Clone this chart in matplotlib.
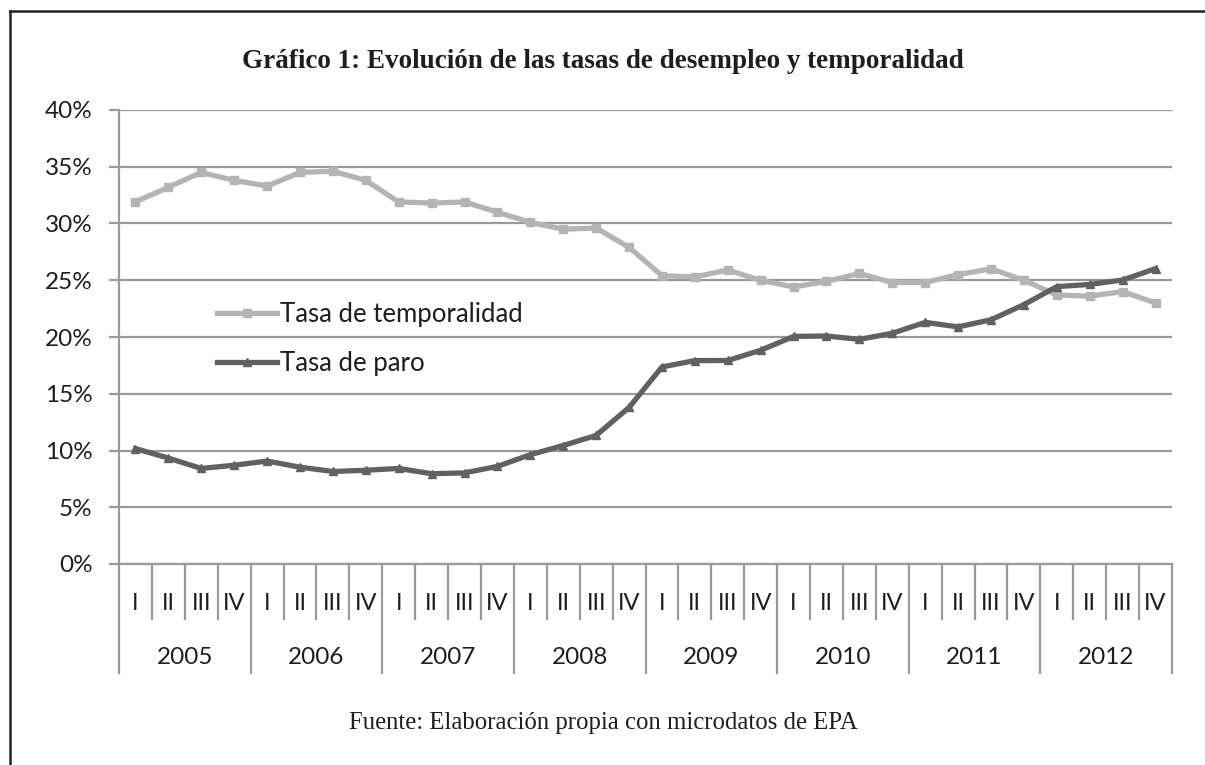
import matplotlib
matplotlib.use("Agg")
import matplotlib.pyplot as plt
import matplotlib.transforms as mtransforms
from matplotlib.ticker import FuncFormatter

# data (EPA, quarterly 2005-2012)
years = ["2005", "2006", "2007", "2008", "2009", "2010", "2011", "2012"]
quarters = ["I", "II", "III", "IV"]

temporalidad = [31.9, 33.2, 34.5, 33.8, 33.3, 34.5, 34.6, 33.8,
                31.9, 31.8, 31.9, 31.0, 30.1, 29.5, 29.6, 27.9,
                25.4, 25.3, 25.9, 25.0, 24.4, 24.9, 25.6, 24.8,
                24.8, 25.5, 26.0, 25.0, 23.7, 23.6, 24.0, 23.0]
paro = [10.17, 9.33, 8.42, 8.70, 9.07, 8.53, 8.15, 8.26,
        8.42, 7.95, 8.03, 8.60, 9.63, 10.44, 11.33, 13.79,
        17.36, 17.92, 17.93, 18.83, 20.05, 20.09, 19.79, 20.33,
        21.29, 20.89, 21.52, 22.85, 24.44, 24.63, 25.02, 26.02]

grid_col = "#9a9a9a"
tick_font = "Lato"
txt_col = "#1e1e1e"

fig = plt.figure(figsize=(12.05, 7.65), dpi=100)
ax = fig.add_axes([119 / 1205, 201 / 765, 1053 / 1205, 454 / 765])

x = list(range(len(paro)))
ax.plot(x, temporalidad, color="#b4b4b4", lw=3.8, marker="s", ms=6,
        label="Tasa de temporalidad")
ax.plot(x, paro, color="#5f6163", lw=3.8, marker="^", ms=6,
        label="Tasa de paro")

ax.set_xlim(-0.5, len(paro) - 0.5)
ax.set_ylim(0, 40)
ax.set_yticks(range(0, 41, 5))
ax.yaxis.set_major_formatter(FuncFormatter(lambda v, p: f"{v:.0f}%"))
ax.grid(axis="y", color=grid_col, lw=1.6)
ax.set_axisbelow(True)
ax.tick_params(axis="y", length=7, width=1.6, color=grid_col, pad=12,
               labelsize=17.5, labelfontfamily=tick_font, labelcolor=txt_col)
ax.set_xticks([])
for s in ["top", "right"]:
    ax.spines[s].set_visible(False)
for s in ["left", "bottom"]:
    ax.spines[s].set_color(grid_col)
    ax.spines[s].set_linewidth(1.6)

# two-level category axis
trans = mtransforms.blended_transform_factory(ax.transData, ax.transAxes)
n = len(paro)
for k in range(n + 1):
    depth = -0.240 if k % len(quarters) == 0 else -0.122
    ax.plot([k - 0.5, k - 0.5], [0, depth], color=grid_col, lw=1.6,
            transform=trans, clip_on=False)
for k in range(n):
    ax.text(k, -0.086, quarters[k % len(quarters)], transform=trans,
            ha="center", va="center", fontsize=17, family=tick_font,
            color=txt_col)
for j, yr in enumerate(years):
    xc = j * len(quarters) + (len(quarters) - 1) / 2
    ax.text(xc, -0.207, yr, transform=trans, ha="center", va="center",
            fontsize=17.5, family=tick_font, color=txt_col)

leg = ax.legend(loc="center left", bbox_to_anchor=(0.093, 0.4956),
                frameon=False, borderpad=0, borderaxespad=0,
                handlelength=2.35, handletextpad=0.1, labelspacing=0.92,
                prop={"family": tick_font, "size": 18.5})
for t in leg.get_texts():
    t.set_color(txt_col)

fig.text(603 / 1205, 1 - 62 / 765,
         "Gráfico 1: Evolución de las tasas de desempleo y temporalidad",
         ha="center", va="center", fontsize=19.5, fontweight="bold",
         family="Liberation Serif", color=txt_col)
fig.text(603 / 1205, 1 - 723 / 765,
         "Fuente: Elaboración propia con microdatos de EPA",
         ha="center", va="center", fontsize=17.8, family="Liberation Serif",
         color=txt_col)

# outer frame (left and top)
fig.add_artist(plt.Line2D([10 / 1205, 10 / 1205], [0, 1 - 11 / 765],
                          color="#222222", lw=1.8))
fig.add_artist(plt.Line2D([10 / 1205, 1], [1 - 11 / 765, 1 - 11 / 765],
                          color="#222222", lw=1.8))

fig.savefig("out.png", dpi=100)
